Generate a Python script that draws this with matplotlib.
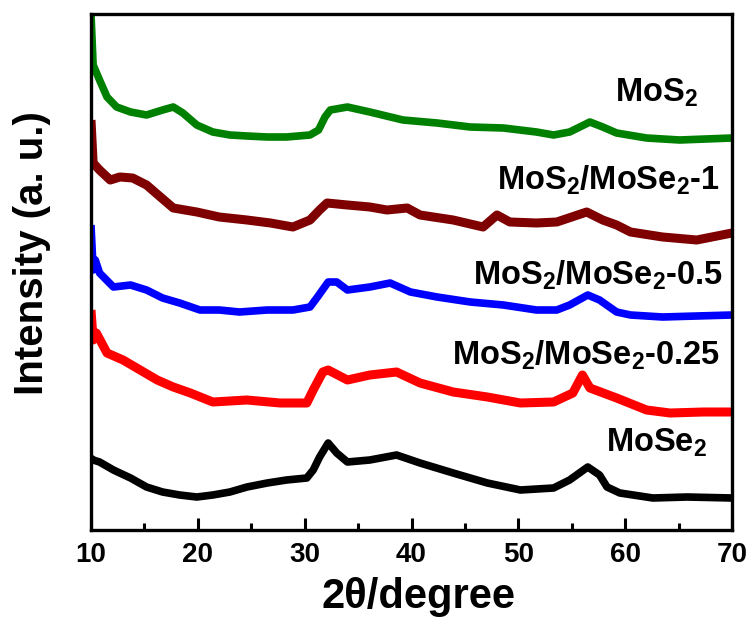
import matplotlib
matplotlib.use("Agg")
import matplotlib.pyplot as plt

plt.rcParams['font.family'] = ['Liberation Sans', 'DejaVu Sans']
plt.rcParams['font.weight'] = 'bold'
plt.rcParams['mathtext.fontset'] = 'custom'
plt.rcParams['mathtext.rm'] = 'Liberation Sans:bold'
plt.rcParams['mathtext.bf'] = 'Liberation Sans:bold'
plt.rcParams['mathtext.default'] = 'rm'

# ---- data (arbitrary intensity units, offset stacked as in the figure) ----
x_mos2 = [10.0, 10.2, 10.8, 11.5, 12.4, 13.7, 15.2, 16.7, 17.7, 18.6, 19.9, 21.4, 23.0, 24.6,
          26.5, 28.3, 30.5, 31.3, 31.9, 32.4, 34.0, 36.1, 39.2, 42.4, 45.5, 48.6, 51.7, 53.3,
          54.8, 56.7, 57.9, 59.2, 62.0, 65.1, 70.0]
y_mos2 = [516, 465, 450, 433, 423, 418, 415, 420, 423, 417, 405, 398, 395, 394,
          393, 393, 395, 400, 413, 420, 423, 418, 410, 407, 403, 402, 398, 395,
          398, 408, 403, 397, 392, 390, 392]

x_m1 = [10.0, 10.2, 10.8, 11.8, 12.7, 13.9, 15.2, 16.5, 17.7, 19.9, 22.0, 24.6, 26.8, 28.9,
        30.5, 31.4, 32.1, 34.0, 36.1, 37.7, 39.6, 40.8, 43.9, 46.7, 48.0, 49.2, 51.7, 53.6,
        56.4, 57.9, 59.2, 60.5, 63.5, 66.7, 70.0]
y_m1 = [410, 367, 360, 350, 353, 352, 345, 333, 322, 318, 313, 310, 307, 303,
        310, 320, 327, 325, 323, 320, 322, 315, 310, 303, 315, 308, 307, 308,
        318, 310, 305, 298, 293, 290, 297]

x_m05 = [10.0, 10.2, 10.4, 10.8, 12.1, 13.7, 15.2, 16.7, 18.3, 20.2, 22.0, 23.9, 26.5, 28.9,
         30.5, 31.2, 32.2, 33.0, 34.0, 36.1, 38.0, 39.9, 42.4, 45.5, 48.6, 51.7, 53.6, 54.8,
         56.5, 57.6, 59.2, 60.5, 63.5, 66.7, 70.0]
y_m05 = [305, 260, 270, 257, 243, 245, 240, 232, 227, 220, 220, 218, 220, 220,
         223, 233, 248, 248, 240, 243, 247, 238, 233, 228, 225, 220, 220, 225,
         235, 230, 218, 215, 213, 214, 215]

x_m025 = [10.0, 10.2, 10.5, 11.5, 13.0, 14.6, 16.2, 17.7, 19.3, 21.4, 24.6, 27.7, 30.2, 30.8,
          31.7, 32.2, 34.0, 36.1, 38.6, 40.8, 43.9, 47.1, 50.2, 53.3, 55.1, 56.0, 56.7, 59.2,
          62.0, 64.2, 67.3, 70.0]
y_m025 = [220, 190, 197, 177, 170, 160, 150, 143, 137, 128, 130, 127, 127, 140,
          158, 160, 150, 155, 158, 147, 138, 133, 127, 128, 137, 155, 142, 132,
          120, 117, 118, 118]

x_mose2 = [10.0, 10.2, 10.8, 12.1, 13.7, 15.2, 16.7, 18.3, 19.9, 21.4, 23.0, 24.6, 26.5, 28.3,
           30.2, 30.8, 31.4, 32.2, 33.0, 34.0, 36.1, 38.6, 40.8, 43.9, 47.1, 50.2, 53.3, 54.8,
           56.5, 57.6, 58.3, 59.5, 62.6, 65.8, 70.0]
y_mose2 = [72, 70, 68, 60, 52, 43, 38, 35, 33, 35, 38, 43, 47, 50,
           52, 60, 73, 87, 77, 68, 70, 75, 67, 57, 47, 40, 42, 50,
           63, 55, 43, 37, 32, 33, 32]

labels = [r'MoS$_2$', r'MoS$_2$/MoSe$_2$-1', r'MoS$_2$/MoSe$_2$-0.5',
          r'MoS$_2$/MoSe$_2$-0.25', r'MoSe$_2$']
label_x = [66.8, 68.9, 69.2, 68.9, 67.7]
label_y = [428, 340, 245, 165, 78]

xticks = [10, 20, 30, 40, 50, 60, 70]

# ---- figure ----
fig = plt.figure(figsize=(7.56, 6.23), dpi=100)
ax = fig.add_axes([91/756, 1-530/623, (732-91)/756, (530-14)/623])

series = [(x_mos2, y_mos2, '#008000', 5.5),
          (x_m1, y_m1, '#7f0000', 6.5),
          (x_m05, y_m05, '#0000ff', 5.5),
          (x_m025, y_m025, '#ff0000', 6.5),
          (x_mose2, y_mose2, '#000000', 5.5)]
for xs, ys, c, lw in series:
    ax.plot(xs, ys, color=c, lw=lw, solid_joinstyle='round', solid_capstyle='butt')

for t, tx, ty in zip(labels, label_x, label_y):
    ax.text(tx, ty, t, ha='right', va='baseline', fontsize=23.5, fontweight='bold')

ax.set_xlim(10, 70)
ax.set_ylim(0, 516)
ax.set_xticks(xticks)
ax.set_xticks([15, 25, 35, 45, 55, 65], minor=True)
ax.set_yticks([])
ax.tick_params(axis='x', which='major', direction='in', length=9, width=2.2,
               labelsize=20, pad=9, top=False)
ax.tick_params(axis='x', which='minor', direction='in', length=5, width=2.2, top=False)
for lab in ax.get_xticklabels():
    lab.set_fontweight('bold')
for s in ax.spines.values():
    s.set_linewidth(2.4)

fig.text(32/756, 1-253/623, 'Intensity (a. u.)', rotation=90, ha='center', va='center',
         fontsize=29, fontweight='bold')
fig.text(419/756, 1-597/623, '2θ/degree', ha='center', va='center',
         fontsize=30, fontweight='bold')

fig.savefig('out.png', dpi=100)
